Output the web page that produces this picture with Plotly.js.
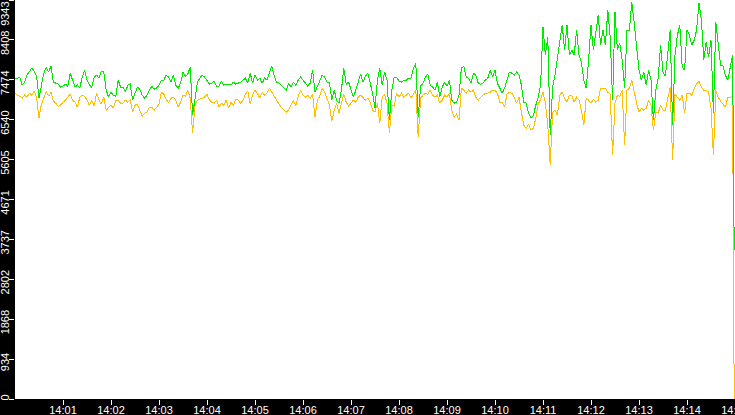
<!DOCTYPE html>
<html>
<head>
<meta charset="utf-8">
<script src="https://cdn.plot.ly/plotly-3.0.1.min.js"></script>
<style>
  html, body { margin: 0; padding: 0; background: #000; }
  #chart { width: 735px; height: 415px; }
  /* lines in the original are drawn without antialiasing */
  .scatterlayer path { shape-rendering: crispEdges; }
</style>
</head>
<body>
<div id="chart"></div>
<script>
// samples every 3 s from 14:00:00, last sample at 14:14:59
const startTime = '2024-01-01 14:00:00';
const stepSec = 3;
const lastSec = 899;

// green series
const seriesGreen = [
  7490, 7513, 7537, 7349, 7419, 7584, 7654, 7748, 7677, 7560,
  7044, 7372, 7630, 7771, 7654, 7795, 7419, 7396, 7372, 7302,
  7325, 7372, 7325, 7630, 7466, 7302, 7349, 7279, 7537, 7701,
  7466, 7349, 7302, 7537, 7584, 7513, 7677, 7654, 7232, 7067,
  7185, 7114, 7091, 7466, 7302, 7302, 7185, 7349, 7372, 6997,
  7161, 7302, 7255, 7114, 7044, 7114, 7232, 7325, 7255, 7279,
  7349, 7466, 7466, 7584, 7537, 7419, 7584, 7349, 7279, 7396,
  7654, 7560, 7607, 7771, 6645, 7067, 7419, 7513, 7584, 7537,
  7466, 7372, 7396, 7443, 7325, 7325, 7443, 7349, 7372, 7372,
  7349, 7419, 7372, 7396, 7419, 7466, 7513, 7396, 7630, 7396,
  7584, 7466, 7513, 7396, 7513, 7466, 7654, 7795, 7560, 7419,
  7396, 7349, 7279, 7232, 7396, 7302, 7419, 7349, 7466, 7537,
  7466, 7396, 7325, 7396, 7701, 7185, 7325, 7466, 7584, 7537,
  7419, 7419, 6997, 7232, 6997, 6927, 7232, 7748, 7372, 7419,
  7232, 7067, 7232, 7396, 7607, 7419, 7560, 7630, 7396, 7161,
  6809, 7466, 7748, 7349, 7654, 7466, 6528, 7232, 7537, 7537,
  7443, 7419, 7466, 7466, 7513, 7513, 7748, 7865, 6598, 7325,
  7396, 7537, 7607, 7349, 7302, 7232, 7419, 7067, 7302, 7419,
  7325, 7466, 6997, 6927, 6950, 7114, 7748, 7795, 7537, 7513,
  7396, 7630, 7584, 7396, 7372, 7396, 7466, 7513, 7701, 7537,
  7701, 7396, 7279, 7161, 7279, 7466, 7654, 7630, 7584, 7654,
  7584, 7349, 6950, 6927, 6692, 6575, 6645, 6880, 7067, 7349,
  8710, 8053, 8475, 6176, 7302, 7584, 7982, 8287, 8757, 8170,
  8757, 8053, 8170, 8053, 8639, 8053, 7888, 7466, 7279, 7935,
  8757, 8170, 8639, 8991, 8287, 8639, 8287, 9108, 8475, 6997,
  9061, 8170, 8334, 7935, 7279, 8639, 8639, 9296, 8803, 8170,
  7701, 7466, 7654, 7349, 7701, 7466, 6528, 7232, 7513, 8287,
  7654, 7560, 8053, 8639, 6411, 8053, 8522, 8757, 7771, 7701,
  8639, 8522, 8287, 8405, 8639, 9273, 8874, 7935, 8358, 8006,
  8405, 6692, 8827, 8240, 7818, 7795, 7584, 7466, 7748, 8053,
  3500
];

// orange series
const seriesOrange = [
  7161, 7114, 7091, 7044, 7114, 7067, 7161, 7114, 7208, 7067,
  6575, 6903, 7044, 7208, 7091, 7185, 6973, 6927, 6856, 6880,
  6950, 6997, 7067, 7138, 6997, 6950, 6833, 7067, 7114, 7091,
  6997, 6880, 6997, 6856, 7161, 6997, 6903, 7067, 6762, 6833,
  6880, 6809, 6997, 6997, 6927, 6927, 6997, 6950, 6997, 6715,
  6880, 6903, 6762, 6622, 6692, 6715, 6833, 6833, 6762, 6833,
  6903, 7185, 7138, 7020, 6927, 7044, 7067, 6997, 6833, 6950,
  7114, 7091, 7232, 7044, 6223, 6880, 6997, 7020, 7044, 7067,
  7138, 6997, 6950, 6927, 6997, 6833, 6927, 6880, 6997, 6809,
  6950, 6880, 7020, 6997, 6927, 6997, 7138, 7208, 6903, 7114,
  7232, 7161, 7044, 7185, 7114, 7161, 7279, 7185, 7067, 6973,
  6903, 6833, 6762, 6715, 6762, 6903, 6997, 6856, 7091, 7232,
  7114, 7067, 7114, 7044, 7138, 6598, 6997, 7091, 7279, 7185,
  7044, 6880, 6504, 6762, 6927, 6692, 6927, 7138, 6950, 6856,
  6927, 6997, 6950, 7067, 7114, 7044, 6997, 7044, 6950, 6762,
  6715, 6927, 6457, 7067, 7138, 6927, 6223, 6880, 6856, 7161,
  7067, 7161, 7067, 7114, 7161, 7044, 7138, 7232, 6129, 7044,
  7114, 7161, 7138, 7232, 7114, 7067, 7114, 6927, 6997, 7114,
  7067, 7161, 6762, 6598, 6669, 6528, 7279, 7232, 7161, 7232,
  7185, 7232, 7067, 6997, 7067, 7114, 7161, 7161, 7185, 7232,
  7232, 7161, 6950, 6950, 6833, 7138, 7185, 7161, 7067, 6927,
  7067, 6715, 6411, 6340, 6434, 6293, 6340, 6575, 6903, 7020,
  7185, 6927, 6411, 5472, 6715, 6762, 6645, 7114, 7185, 7044,
  6950, 7114, 7114, 6950, 7067, 6997, 6762, 6411, 7044, 6997,
  6927, 7020, 6950, 6997, 7279, 7279, 7279, 7185, 7138, 5707,
  6927, 7114, 7091, 7232, 5941, 7232, 7279, 7466, 7185, 6927,
  6715, 6809, 6762, 6809, 6997, 6880, 6293, 6715, 6692, 6880,
  6762, 6762, 7044, 7302, 5589, 7138, 7067, 6997, 7114, 6692,
  7161, 7161, 7114, 7279, 7372, 7443, 7302, 7232, 7232, 7185,
  6809, 5707, 7232, 7067, 6973, 6903, 6833, 7067, 7067, 7091,
  0
];

// y axis ticks
const yMax = 9343;
const yTickVals = [0, 934.3, 1868.6, 2802.9, 3737.2, 4671.5, 5605.8, 6540.1, 7474.4, 8408.7, 9343];
const yTickText = ['0', '934', '1868', '2802', '3737', '4671', '5605', '6540', '7474', '8408', '9343'];

// x axis: one tick a minute, 14:01 .. 14:15
const xRange = ['2024-01-01 14:00:00', '2024-01-01 14:15:00'];
const xTickMinutes = [1, 2, 3, 4, 5, 6, 7, 8, 9, 10, 11, 12, 13, 14, 15];

function pad2(n) { return (n < 10 ? '0' : '') + n; }
function timeAt(sec) {
  const base = new Date(startTime.replace(' ', 'T') + 'Z').getTime();
  const d = new Date(base + sec * 1000);
  return d.getUTCFullYear() + '-' + pad2(d.getUTCMonth() + 1) + '-' + pad2(d.getUTCDate()) +
    ' ' + pad2(d.getUTCHours()) + ':' + pad2(d.getUTCMinutes()) + ':' + pad2(d.getUTCSeconds());
}

const times = seriesGreen.map((_, i) =>
  timeAt(i === seriesGreen.length - 1 ? lastSec : i * stepSec));
const xTickVals = xTickMinutes.map(m => timeAt(m * 60));

// rotated labels sit a bit below their tick in the original
const nb = '\u00a0';
const yLabels = yTickText.map((t, i) => {
  if (i === 0) return t;
  if (i === yTickText.length - 1) return t + nb.repeat(10);
  return t + nb.repeat(3);
});

const traces = [
  {
    x: times, y: seriesOrange,
    mode: 'lines', name: 'orange',
    line: { color: '#ffc000', width: 1 },
    hoverinfo: 'skip'
  },
  {
    x: times, y: seriesGreen,
    mode: 'lines', name: 'green',
    line: { color: '#00e800', width: 1 },
    hoverinfo: 'skip'
  }
];

const layout = {
  width: 735,
  height: 415,
  margin: { l: 15, r: 0, t: 0, b: 16, pad: 0 },
  paper_bgcolor: '#000000',
  plot_bgcolor: '#ffffff',
  showlegend: false,
  font: { family: 'Liberation Sans, Arial, sans-serif', size: 11, color: '#ffffff' },
  xaxis: {
    type: 'date',
    range: xRange,
    tickmode: 'array',
    tickvals: xTickVals,
    tickformat: '%H:%M',
    ticks: 'outside',
    ticklen: 5,
    tickwidth: 1,
    tickcolor: '#ffffff',
    ticklabelstandoff: -4,
    ticklabeloverflow: 'allow',
    showgrid: false,
    zeroline: false,
    showline: false,
    fixedrange: true
  },
  yaxis: {
    range: [0, yMax],
    tickmode: 'array',
    tickvals: yTickVals,
    ticktext: yLabels,
    tickangle: -90,
    ticks: 'outside',
    ticklen: 5,
    tickwidth: 1,
    tickcolor: '#ffffff',
    ticklabelstandoff: -4,
    ticklabeloverflow: 'allow',
    showgrid: false,
    zeroline: false,
    showline: false,
    fixedrange: true
  }
};

Plotly.newPlot('chart', traces, layout, { displayModeBar: false, staticPlot: true });
</script>
</body>
</html>
